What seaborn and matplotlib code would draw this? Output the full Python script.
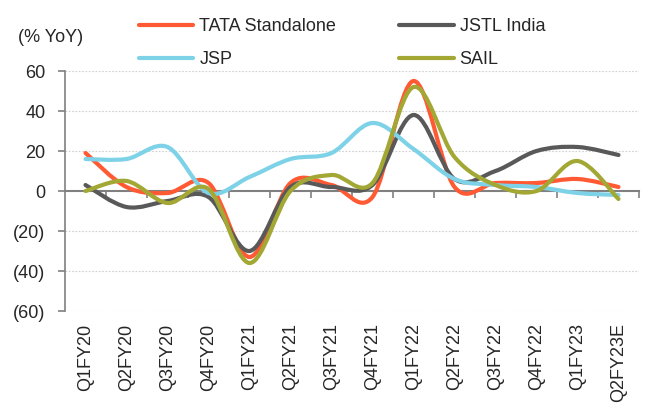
import numpy as np
import matplotlib.pyplot as plt
import seaborn as sns
from matplotlib.path import Path
from matplotlib.patches import PathPatch
from matplotlib.lines import Line2D

# values (% YoY)
quarters = ['Q1FY20', 'Q2FY20', 'Q3FY20', 'Q4FY20', 'Q1FY21', 'Q2FY21', 'Q3FY21',
            'Q4FY21', 'Q1FY22', 'Q2FY22', 'Q3FY22', 'Q4FY22', 'Q1FY23', 'Q2FY23E']
tata = [19, 2, -1, 4, -33, 4, 3, -3, 55, 2, 4, 4, 6, 2]
jstl = [3, -8, -5, -3, -30, 2, 2, 3, 38, 6, 10, 20, 22, 18]
jsp = [16, 16, 22, -1, 7, 16, 19, 34, 21, 6, 3, 2, -1, -2]
sail = [0, 5, -6, 1, -36, 0, 8, 4, 52, 17, 3, 0, 15, -4]

series_names = ['TATA Standalone', 'JSTL India', 'JSP', 'SAIL']
series_colors = ['#FF5A33', '#595959', '#7ED2E8', '#A3A834']


def smooth_path(xs, ys):
    """Excel-style smoothed line: cubic bezier through every point"""
    pts = np.column_stack([xs, ys]).astype(float)
    n = len(pts)
    verts = [pts[0]]
    codes = [Path.MOVETO]
    for i in range(n - 1):
        p_prev = pts[i - 1] if i > 0 else pts[i]
        p_next = pts[i + 2] if i + 2 < n else pts[i + 1]
        c1 = pts[i] + (pts[i + 1] - p_prev) / 6
        c2 = pts[i + 1] - (p_next - pts[i]) / 6
        verts += [c1, c2, pts[i + 1]]
        codes += [Path.CURVE4] * 3
    return Path(verts, codes)


sns.set_theme(style="white")
plt.rcParams['font.family'] = ['Liberation Sans', 'DejaVu Sans']
fs = 13

fig = plt.figure(figsize=(6.7, 4.03), dpi=100)
ax = fig.add_axes([65 / 670, 1 - 311 / 403, 574 / 670, 240 / 403])

x = np.arange(len(quarters))
palette = sns.color_palette(series_colors)
handles = []
for name, vals, col in zip(series_names, [tata, jstl, jsp, sail], palette):
    patch = PathPatch(smooth_path(x, vals), facecolor='none', edgecolor=col,
                      lw=3, capstyle='round', joinstyle='round', zorder=3)
    ax.add_patch(patch)
    handles.append(Line2D([], [], color=col, lw=3))

ax.set_xlim(-0.5, len(quarters) - 0.5)
ax.set_ylim(-60, 60)

# y axis
yt = np.arange(-60, 61, 20)
ax.set_yticks(yt)
ax.set_yticklabels([f'({abs(v)})' if v < 0 else f'{v}' for v in yt], fontsize=fs)
ax.tick_params(axis='y', left=True, length=5, width=1.2, color='#808080', pad=9)
for v in yt:
    if v != 0:
        ax.axhline(v, color='#D0D0D0', lw=0.8, ls=(0, (1.5, 1.5)), zorder=1)

# x axis line at zero with boundary ticks
ax.spines['bottom'].set_position(('data', 0))
ax.spines['bottom'].set_color('#808080')
ax.spines['bottom'].set_linewidth(1.5)
ax.spines['left'].set_color('#808080')
ax.spines['left'].set_linewidth(1.2)
ax.spines['top'].set_visible(False)
ax.spines['right'].set_visible(False)
ax.set_xticks(np.arange(len(quarters)) + 0.5)
ax.set_xticklabels([])
ax.tick_params(axis='x', bottom=True, length=5, width=1.2, color='#808080')

# category labels at the bottom
sec = ax.secondary_xaxis('bottom')
sec.set_xticks(x)
sec.set_xticklabels(quarters, rotation=90, fontsize=fs)
sec.tick_params(length=0, pad=9)
sec.spines['bottom'].set_visible(False)

fig.text(18 / 670, 1 - 38 / 403, '(% YoY)', fontsize=fs, ha='left', va='center')

order = [0, 2, 1, 3]
fig.legend([handles[i] for i in order], [series_names[i] for i in order],
           ncol=2, loc='upper left', bbox_to_anchor=(123 / 670, 1 - 2 / 403),
           frameon=False, fontsize=fs, handlelength=3.0, handletextpad=0.33,
           columnspacing=3.5, labelspacing=0.9)

fig.savefig('out.png', dpi=100)
